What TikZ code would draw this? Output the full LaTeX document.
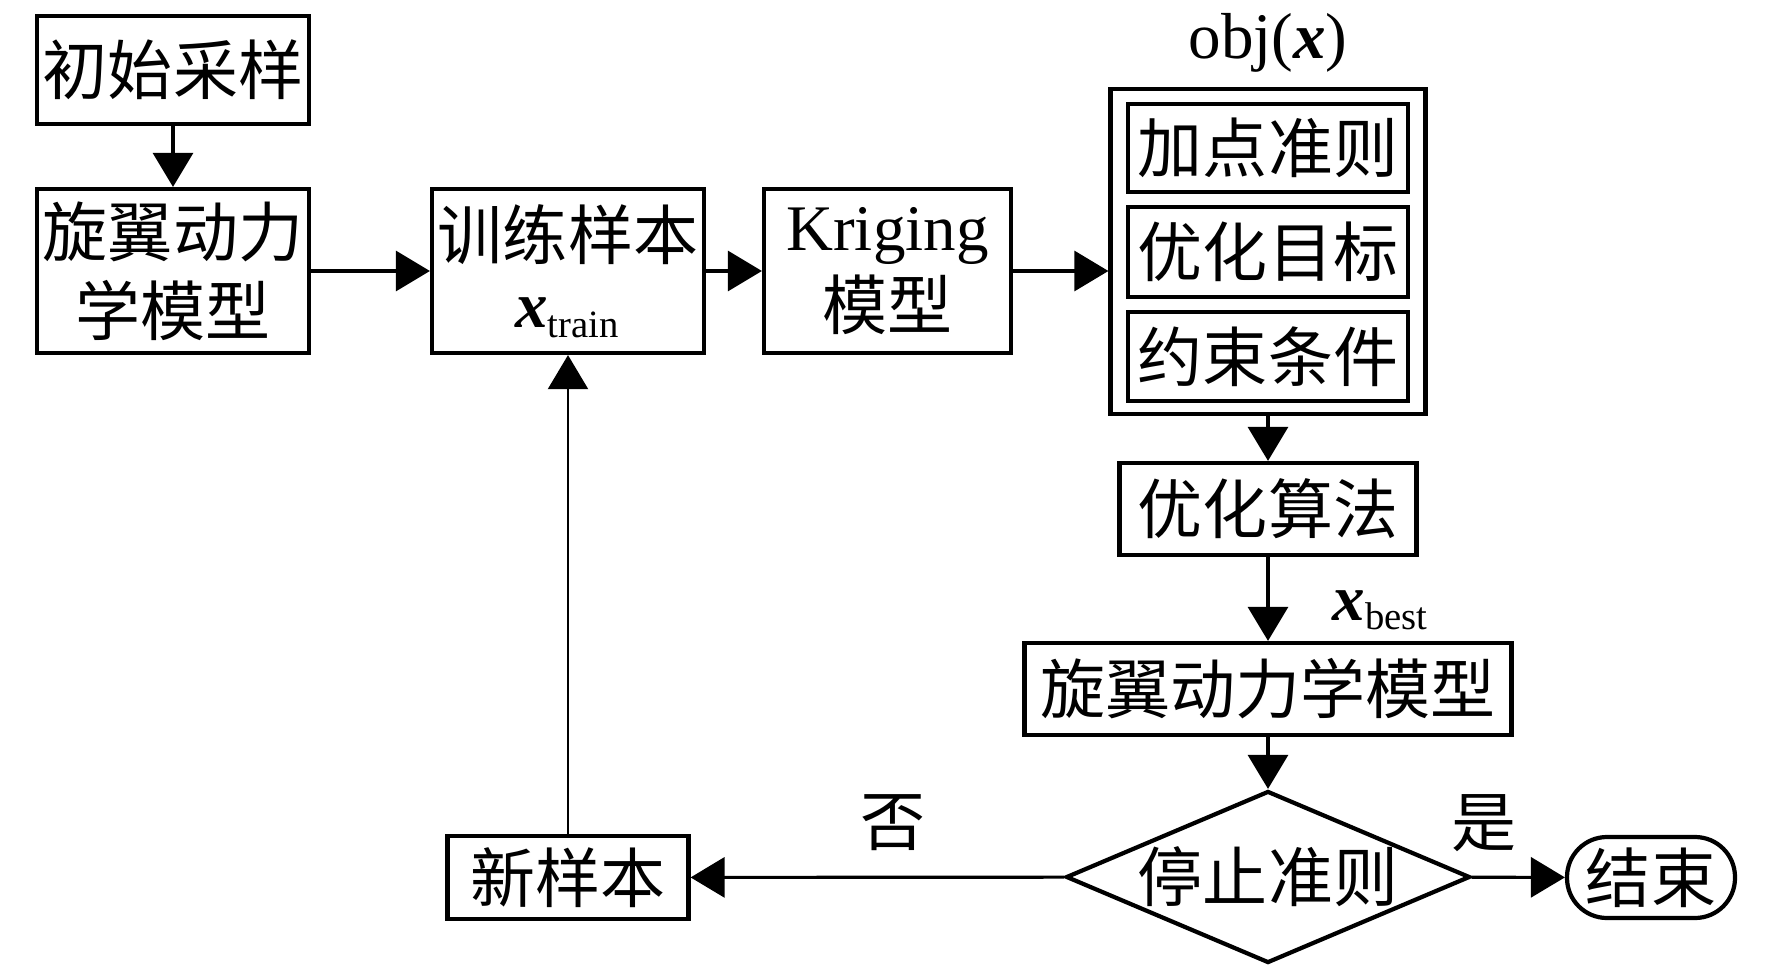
\documentclass[tikz,border=0pt]{standalone}
\usepackage{fontspec}
\setmainfont{Noto Sans CJK SC}
\newfontfamily\latin{Liberation Serif}
\usetikzlibrary{shapes.geometric,arrows.meta}

\begin{document}
\begin{tikzpicture}[
    box/.style={draw,line width=1.2pt,inner sep=0pt,align=center,
      font=\fontsize{18.5}{22.5}\selectfont},
    line/.style={line width=0.9pt,-{Triangle[length=3.4mm,width=4mm]}},
    lab/.style={inner sep=0pt,font=\fontsize{18.5}{22.5}\selectfont}
  ]
  \useasboundingbox (0,0) rectangle (17.72,9.69);
  % left column and top row
  \node [box,minimum width=2.72cm,minimum height=1.08cm] (init) at (1.73,8.99) {初始采样};
  \node [box,minimum width=2.72cm,minimum height=1.64cm] (rdm1) at (1.73,6.98) {旋翼动力\\学模型};
  \node [box,minimum width=2.72cm,minimum height=1.64cm] (train) at (5.68,6.98)
    {训练样本\\[-3pt]{\latin\textbf{\textit{x}}\textsubscript{\fontsize{11}{11}\selectfont train}}};
  \node [box,minimum width=2.47cm,minimum height=1.64cm] (krig) at (8.875,6.98) {{\latin Kriging}\\模型};
  % obj(x) block
  \node [box,minimum width=3.15cm,minimum height=3.25cm] (outer) at (12.68,7.175) {};
  \node [box,minimum width=2.80cm,minimum height=0.88cm] (add) at (12.68,8.21) {加点准则};
  \node [box,minimum width=2.80cm,minimum height=0.90cm] (goal) at (12.68,7.17) {优化目标};
  \node [box,minimum width=2.80cm,minimum height=0.89cm] (cons) at (12.68,6.125) {约束条件};
  \node [lab] (obj) at (12.68,9.26) {\latin obj(\textbf{\textit{x}})};
  % right column
  \node [box,minimum width=2.97cm,minimum height=0.92cm] (algo) at (12.68,4.60) {优化算法};
  \node [lab] (best) at (13.81,3.59) {\latin\textbf{\textit{x}}\textsubscript{\fontsize{11}{11}\selectfont best}};
  \node [box,minimum width=4.87cm,minimum height=0.92cm] (rdm2) at (12.68,2.80) {旋翼动力学模型};
  \node [box,diamond,minimum width=4.04cm,minimum height=1.72cm] (stop) at (12.68,0.92) {};
  \node [lab] (stoptxt) at (stop) {停止准则};
  \node [box,minimum width=2.41cm,minimum height=0.83cm] (newsmp) at (5.68,0.915) {新样本};
  \node [box,rounded corners=0.4cm,minimum width=1.68cm,minimum height=0.81cm] (endn) at (16.51,0.915) {结束};
  \node [lab] (no) at (8.93,1.46) {否};
  \node [lab] (yes) at (14.84,1.46) {是};
  % connectors
  \draw [line] (init) -- (rdm1);
  \draw [line] (rdm1) -- (train);
  \draw [line] (train) -- (krig);
  \draw [line] (krig.east) -- (krig.east -| outer.west);
  \draw [line] (outer) -- (algo);
  \draw [line] (algo) -- (rdm2);
  \draw [line] (rdm2) -- (stop);
  \draw [line] (stop) -- (newsmp);
  \draw [line] (stop) -- (endn);
  \draw [line,line width=0.6pt] (newsmp) -- (train);
\end{tikzpicture}
\end{document}
